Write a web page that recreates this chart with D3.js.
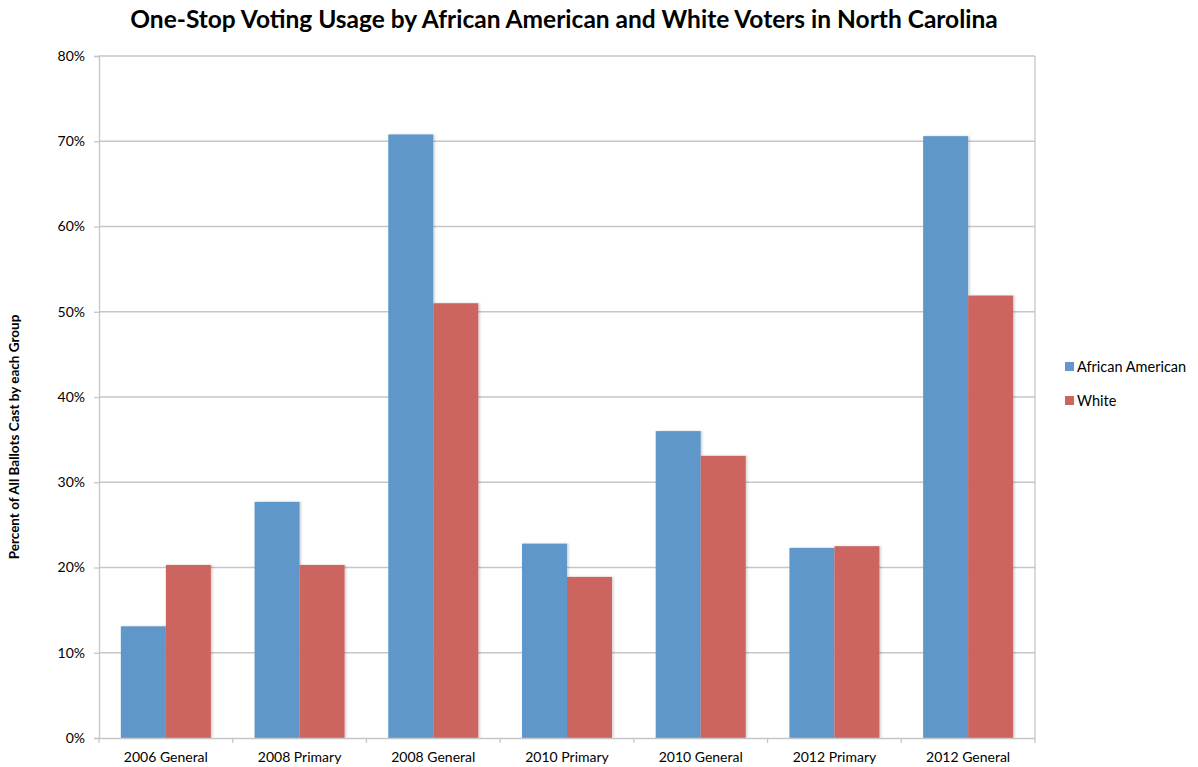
<!DOCTYPE html>
<html>
<head>
<meta charset="utf-8">
<script src="https://cdn.jsdelivr.net/npm/d3@7"></script>
<style>
  body { margin: 0; background: #fff; }
  svg { display: block; font-family: Lato, "Open Sans", sans-serif; }
</style>
</head>
<body>
<svg id="chart" width="1198" height="767"></svg>
<script>
const categories = ["2006 General", "2008 Primary", "2008 General", "2010 Primary", "2010 General", "2012 Primary", "2012 General"];
const seriesNames = ["African American", "White"];
const africanAmerican = [13.1, 27.7, 70.8, 22.8, 36.0, 22.3, 70.6];
const white = [20.3, 20.3, 51.0, 18.9, 33.1, 22.5, 51.9];
const yTicks = [0, 10, 20, 30, 40, 50, 60, 70, 80];
const colors = ["#6197CA", "#CC655E"];

const svg = d3.select("#chart");
const margin = { left: 99, right: 1035, top: 56, bottom: 738 };

const x = d3.scaleBand().domain(categories).range([margin.left, margin.right]).paddingInner(0).paddingOuter(0);
const x1 = d3.scaleBand().domain(seriesNames).range([0, x.bandwidth()]).paddingInner(0).paddingOuter(0.485);
const y = d3.scaleLinear().domain([0, 80]).range([margin.bottom, margin.top]);

// Title
svg.append("text")
  .attr("x", 564).attr("y", 28)
  .attr("text-anchor", "middle")
  .attr("font-size", 24.5).attr("font-weight", "bold").attr("fill", "#000")
  .text("One-Stop Voting Usage by African American and White Voters in North Carolina");

// Gridlines
svg.append("g").selectAll("line").data(yTicks.filter(d => d > 0)).join("line")
  .attr("x1", margin.left).attr("x2", margin.right)
  .attr("y1", d => y(d)).attr("y2", d => y(d))
  .attr("stroke", "#c6c6c6").attr("stroke-width", 1.3);

// Right border of plot area
svg.append("line")
  .attr("x1", margin.right).attr("x2", margin.right)
  .attr("y1", margin.top).attr("y2", margin.bottom)
  .attr("stroke", "#c6c6c6").attr("stroke-width", 1.3);

// Bars with soft shadow
const defs = svg.append("defs");
const f = defs.append("filter").attr("id", "shadow").attr("x", "-10%").attr("y", "-10%").attr("width", "130%").attr("height", "120%");
f.append("feDropShadow").attr("dx", 1.5).attr("dy", 0).attr("stdDeviation", 1).attr("flood-color", "#000").attr("flood-opacity", 0.18);

const data = categories.map((c, i) => ({ c, vals: [africanAmerican[i], white[i]] }));
const groups = svg.append("g").selectAll("g").data(data).join("g")
  .attr("transform", d => `translate(${x(d.c)},0)`);
groups.selectAll("rect").data(d => d.vals.map((v, j) => ({ v, s: seriesNames[j], j }))).join("rect")
  .attr("x", d => x1(d.s))
  .attr("width", x1.bandwidth())
  .attr("y", d => y(d.v))
  .attr("height", d => y(0) - y(d.v))
  .attr("fill", d => colors[d.j])
  .attr("filter", "url(#shadow)");

// Y axis
const yAxis = d3.axisLeft(y).tickValues(yTicks).tickFormat(d => d + "%").tickSize(5).tickPadding(9);
const gy = svg.append("g").attr("transform", `translate(${margin.left},0)`).call(yAxis);
gy.select(".domain").attr("stroke", "#c6c6c6").attr("stroke-width", 1.3);
gy.selectAll(".tick line").attr("stroke", "#c6c6c6").attr("stroke-width", 1.3);
gy.selectAll(".tick text").attr("font-size", 14).attr("fill", "#000").attr("font-family", "Lato, sans-serif");

// X axis
const xAxis = d3.axisBottom(x).tickSize(0).tickPadding(14);
const gx = svg.append("g").attr("transform", `translate(0,${margin.bottom})`).call(xAxis);
gx.select(".domain").attr("stroke", "#c6c6c6").attr("stroke-width", 1.3);
gx.selectAll(".tick text").attr("font-size", 14).attr("fill", "#000").attr("font-family", "Lato, sans-serif");
// Category boundary ticks
svg.append("g").selectAll("line").data(categories.concat(["end"])).join("line")
  .attr("x1", (d, i) => margin.left + i * x.step())
  .attr("x2", (d, i) => margin.left + i * x.step())
  .attr("y1", margin.bottom).attr("y2", margin.bottom + 5)
  .attr("stroke", "#c6c6c6").attr("stroke-width", 1.3);

// Y axis title
svg.append("text")
  .attr("transform", "translate(19,437) rotate(-90)")
  .attr("text-anchor", "middle")
  .attr("font-size", 13.5).attr("font-weight", "bold").attr("fill", "#000")
  .text("Percent of All Ballots Cast by each Group");

// Legend
const legend = svg.append("g").selectAll("g").data(seriesNames).join("g")
  .attr("transform", (d, i) => `translate(1065,${362 + i * 34})`);
legend.append("rect").attr("width", 9).attr("height", 9).attr("fill", (d, i) => colors[i]);
legend.append("text").attr("x", 12).attr("y", 10).attr("font-size", 14.5).attr("fill", "#000").text(d => d);
</script>
</body>
</html>
